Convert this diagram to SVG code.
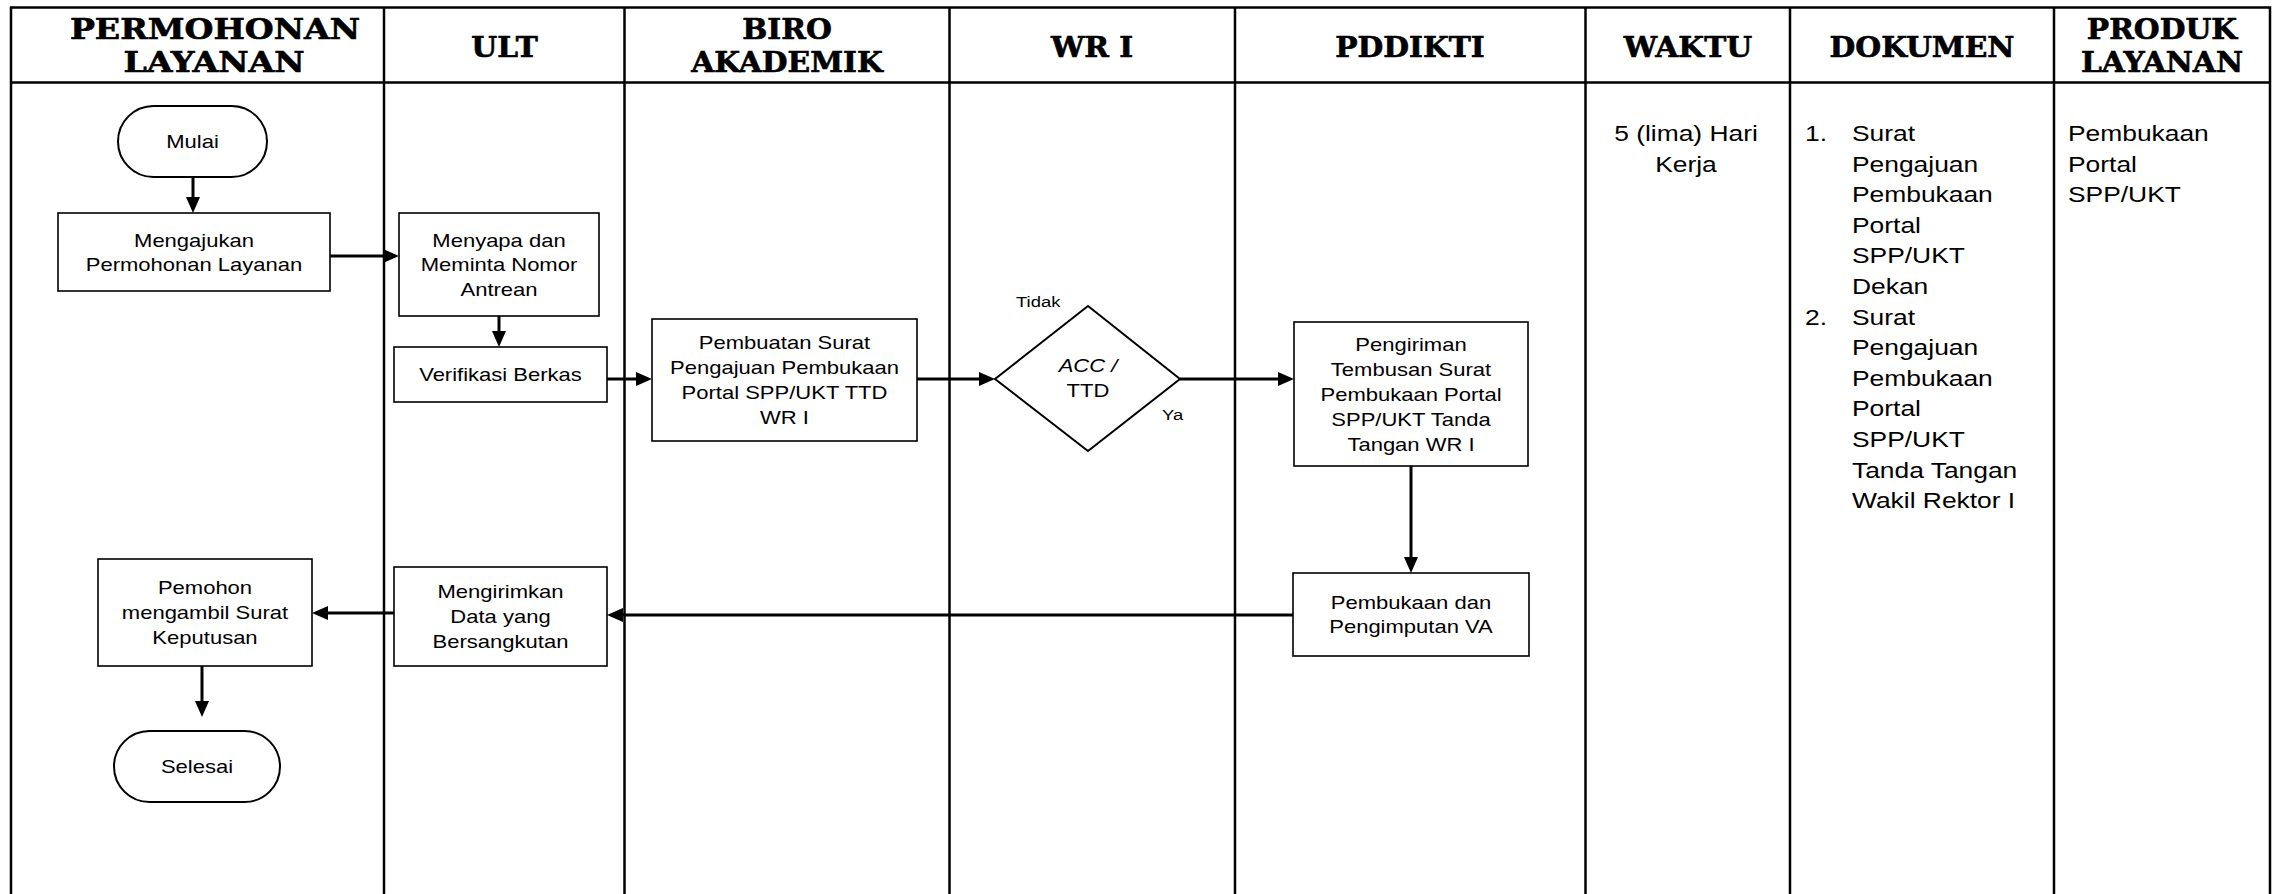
<svg xmlns="http://www.w3.org/2000/svg" width="2273" height="894" viewBox="0 0 2273 894">
<style>
.hdr{font-family:"DejaVu Serif","Liberation Serif",serif;font-weight:bold;font-size:27px;fill:#000;stroke:#000;stroke-width:0.6;text-anchor:middle}
.ft{font-family:"Liberation Sans",Arial,sans-serif;font-size:18.5px;fill:#000;text-anchor:middle}
.lb{font-family:"Liberation Sans",Arial,sans-serif;font-size:15.5px;fill:#000}
.rt{font-family:"Liberation Sans",Arial,sans-serif;font-size:22px;fill:#000}
.box{fill:#fff;stroke:#000;stroke-width:1.6}
.term{fill:#fff;stroke:#000;stroke-width:2}
.grid{stroke:#000;stroke-width:2.5;fill:none}
.conn{stroke:#000;stroke-width:3;fill:none;marker-end:url(#ah)}
</style>
<defs>
<marker id="ah" markerUnits="userSpaceOnUse" markerWidth="16" markerHeight="14" refX="6" refY="7" orient="auto"><path d="M0,0 L16,7 L0,14 z" fill="#000"/></marker>
</defs>
<rect width="2273" height="894" fill="#fff"/>
<g id="table">
<path class="grid" d="M11,894 V7.5 H2270 V894 M11,82.5 H2270 M384,7.5 V894 M624.5,7.5 V894 M949.5,7.5 V894 M1235,7.5 V894 M1585.5,7.5 V894 M1790,7.5 V894 M2054,7.5 V894"/>
<text class="hdr" transform="translate(215 38.5) scale(1.23 1)" x="0" y="0">PERMOHONAN</text>
<text class="hdr" transform="translate(214 72) scale(1.23 1)" x="0" y="0">LAYANAN</text>
<text class="hdr" transform="translate(504.5 57) scale(1.1 1)" x="0" y="0">ULT</text>
<text class="hdr" transform="translate(787 38.5) scale(1.1 1)" x="0" y="0">BIRO</text>
<text class="hdr" transform="translate(787 72) scale(1.1 1)" x="0" y="0">AKADEMIK</text>
<text class="hdr" transform="translate(1092 57) scale(1.1 1)" x="0" y="0">WR I</text>
<text class="hdr" transform="translate(1410 57) scale(1.1 1)" x="0" y="0">PDDIKTI</text>
<text class="hdr" transform="translate(1688 57) scale(1.1 1)" x="0" y="0">WAKTU</text>
<text class="hdr" transform="translate(1922 57) scale(1.1 1)" x="0" y="0">DOKUMEN</text>
<text class="hdr" transform="translate(2162 38.5) scale(1.1 1)" x="0" y="0">PRODUK</text>
<text class="hdr" transform="translate(2162 72) scale(1.1 1)" x="0" y="0">LAYANAN</text>
</g>
<g id="waktu">
<text class="rt" text-anchor="middle" transform="translate(1686 141) scale(1.2 1)"><tspan x="0" y="0">5 (lima) Hari</tspan><tspan x="0" y="30.7">Kerja</tspan></text>
</g>
<g id="dokumen">
<text class="rt" transform="translate(1805 141) scale(1.2 1)"><tspan x="0" y="0">1.</tspan><tspan x="0" y="183.6">2.</tspan></text>
<text class="rt" transform="translate(1852 141) scale(1.2 1)"><tspan x="0" y="0">Surat</tspan><tspan x="0" y="30.6">Pengajuan</tspan><tspan x="0" y="61.2">Pembukaan</tspan><tspan x="0" y="91.8">Portal</tspan><tspan x="0" y="122.4">SPP/UKT</tspan><tspan x="0" y="153">Dekan</tspan><tspan x="0" y="183.6">Surat</tspan><tspan x="0" y="214.2">Pengajuan</tspan><tspan x="0" y="244.8">Pembukaan</tspan><tspan x="0" y="275.4">Portal</tspan><tspan x="0" y="306">SPP/UKT</tspan><tspan x="0" y="336.6">Tanda Tangan</tspan><tspan x="0" y="367.2">Wakil Rektor I</tspan></text>
</g>
<g id="produk">
<text class="rt" transform="translate(2068 141) scale(1.2 1)"><tspan x="0" y="0">Pembukaan</tspan><tspan x="0" y="30.6">Portal</tspan><tspan x="0" y="61.2">SPP/UKT</tspan></text>
</g>
<g id="connectors">
<line class="conn" x1="193" y1="177" x2="193" y2="203"/>
<line class="conn" x1="330" y1="256" x2="389" y2="256"/>
<line class="conn" x1="499" y1="316" x2="499" y2="337"/>
<line class="conn" x1="607" y1="379" x2="642" y2="379"/>
<line class="conn" x1="917" y1="379" x2="985" y2="379"/>
<line class="conn" x1="1180" y1="379" x2="1284" y2="379"/>
<line class="conn" x1="1411" y1="466" x2="1411" y2="563"/>
<line class="conn" x1="1293" y1="615" x2="617" y2="615"/>
<line class="conn" x1="394" y1="613" x2="322" y2="613"/>
<line class="conn" x1="202" y1="666" x2="202" y2="707"/>
</g>
<g id="mulai">
<rect class="term" x="118" y="106" width="149" height="71" rx="35.5"/>
<text class="ft" transform="translate(192.5 148) scale(1.19 1)" x="0" y="0">Mulai</text>
</g>
<g id="mengajukan">
<rect class="box" x="58" y="213" width="272" height="78"/>
<text class="ft" transform="translate(194 246.5) scale(1.19 1)"><tspan x="0" y="0">Mengajukan</tspan><tspan x="0" y="25">Permohonan Layanan</tspan></text>
</g>
<g id="menyapa">
<rect class="box" x="399" y="213" width="200" height="103"/>
<text class="ft" transform="translate(499 246.5) scale(1.19 1)"><tspan x="0" y="0">Menyapa dan</tspan><tspan x="0" y="25">Meminta Nomor</tspan><tspan x="0" y="50">Antrean</tspan></text>
</g>
<g id="verifikasi">
<rect class="box" x="394" y="347" width="213" height="55"/>
<text class="ft" transform="translate(500.5 380.5) scale(1.19 1)" x="0" y="0">Verifikasi Berkas</text>
</g>
<g id="pembuatan">
<rect class="box" x="652" y="319" width="265" height="122"/>
<text class="ft" transform="translate(784.5 349) scale(1.19 1)"><tspan x="0" y="0">Pembuatan Surat</tspan><tspan x="0" y="25">Pengajuan Pembukaan</tspan><tspan x="0" y="50">Portal SPP/UKT TTD</tspan><tspan x="0" y="75">WR I</tspan></text>
</g>
<g id="acc">
<path class="term" d="M1088,306 L1180,379 L1088,451 L995,379 Z"/>
<text class="ft" transform="translate(1088 372) scale(1.19 1)"><tspan x="0" y="0" font-style="italic">ACC /</tspan><tspan x="0" y="25">TTD</tspan></text>
<text class="lb" transform="translate(1016 307) scale(1.19 1)" x="0" y="0">Tidak</text>
<text class="lb" transform="translate(1162 420) scale(1.19 1)" x="0" y="0">Ya</text>
</g>
<g id="pengiriman">
<rect class="box" x="1294" y="322" width="234" height="144"/>
<text class="ft" transform="translate(1411 351) scale(1.19 1)"><tspan x="0" y="0">Pengiriman</tspan><tspan x="0" y="25">Tembusan Surat</tspan><tspan x="0" y="50">Pembukaan Portal</tspan><tspan x="0" y="75">SPP/UKT Tanda</tspan><tspan x="0" y="100">Tangan WR I</tspan></text>
</g>
<g id="pembukaan">
<rect class="box" x="1293" y="573" width="236" height="83"/>
<text class="ft" transform="translate(1411 608.5) scale(1.19 1)"><tspan x="0" y="0">Pembukaan dan</tspan><tspan x="0" y="25">Pengimputan VA</tspan></text>
</g>
<g id="mengirimkan">
<rect class="box" x="394" y="567" width="213" height="99"/>
<text class="ft" transform="translate(500.5 598) scale(1.19 1)"><tspan x="0" y="0">Mengirimkan</tspan><tspan x="0" y="25">Data yang</tspan><tspan x="0" y="50">Bersangkutan</tspan></text>
</g>
<g id="pemohon">
<rect class="box" x="98" y="559" width="214" height="107"/>
<text class="ft" transform="translate(205 594) scale(1.19 1)"><tspan x="0" y="0">Pemohon</tspan><tspan x="0" y="25">mengambil Surat</tspan><tspan x="0" y="50">Keputusan</tspan></text>
</g>
<g id="selesai">
<rect class="term" x="114" y="731" width="166" height="71" rx="35.5"/>
<text class="ft" transform="translate(197 773) scale(1.19 1)" x="0" y="0">Selesai</text>
</g>
</svg>
